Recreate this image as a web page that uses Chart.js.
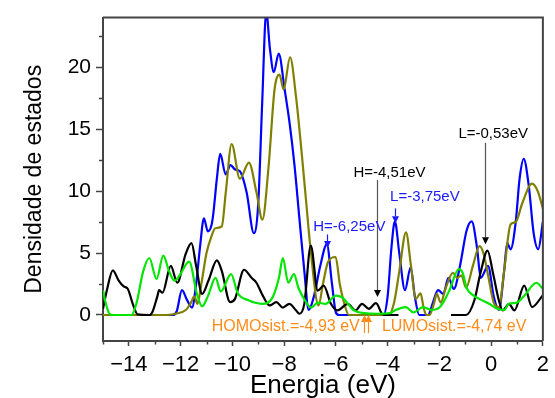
<!DOCTYPE html>
<html>
<head>
<meta charset="utf-8">
<script src="https://cdn.jsdelivr.net/npm/chart.js@4.4.1/dist/chart.umd.min.js"></script>
<style>
  html, body { margin: 0; padding: 0; background: #ffffff; }
  #wrap { width: 555px; height: 398px; }
</style>
</head>
<body>
<div id="wrap"><canvas id="c" width="555" height="398"></canvas></div>
<script>
// ---------- data (energy in eV, density of states) ----------
const blueDOS = [
  [-15, 0], [-12.3, 0], [-12.15, 0.3], [-11.95, 2.0], [-11.75, 1.2], [-11.56, 0.6],
  [-11.4, 2.5], [-11.25, 5.5], [-11.1, 7.8], [-10.95, 6.75], [-10.8, 7.3], [-10.73, 8.3],
  [-10.6, 11.0], [-10.47, 13.0], [-10.26, 11.35], [-10.07, 12.1], [-9.9, 11.75], [-9.71, 11.6],
  [-9.45, 9.9], [-9.17, 6.6], [-9.0, 9.0], [-8.85, 17.0], [-8.69, 24.5], [-8.55, 21.5],
  [-8.4, 19.6], [-8.21, 21.1], [-7.98, 18.2], [-7.79, 15.5], [-7.6, 12.1], [-7.41, 7.8],
  [-7.22, 3.56], [-7.05, 0.4], [-6.85, 1.5], [-6.6, 4.0], [-6.35, 5.7], [-6.15, 2.5],
  [-6.0, 0.2], [-5.88, 0], [-4.16, 0], [-4.0, 1.5], [-3.85, 5.5], [-3.72, 7.55],
  [-3.55, 5.0], [-3.33, 2.0], [-3.11, 3.85], [-2.95, 1.5], [-2.78, 0], [-2.44, 0],
  [-2.25, 1.0], [-2.05, 2.0], [-1.85, 1.7], [-1.65, 3.0], [-1.44, 2.1], [-1.2, 4.0],
  [-0.95, 6.8], [-0.75, 7.55], [-0.55, 5.5], [-0.4, 3.0], [-0.12, 3.96], [0.1, 1.5],
  [0.3, 0.4], [0.5, 3.5], [0.62, 5.8], [0.75, 5.3], [0.95, 7.5], [1.1, 11.0],
  [1.26, 12.6], [1.45, 10.5], [1.65, 6.5], [1.82, 5.3], [2.0, 7.5]
];
const oliveDOS = [
  [-15, 0], [-12.6, 0], [-12.2, 0.1], [-11.8, 0.4], [-11.6, 1.0], [-11.47, 1.5],
  [-11.35, 0.9], [-11.2, 2.5], [-11.0, 5.0], [-10.8, 6.4], [-10.66, 7.0], [-10.41, 7.15],
  [-10.25, 10.0], [-10.03, 13.8], [-9.71, 11.0], [-9.36, 12.3], [-9.07, 9.9], [-8.84, 7.7],
  [-8.6, 12.0], [-8.37, 18.2], [-8.18, 19.4], [-8.02, 18.2], [-7.77, 20.8], [-7.54, 17.6],
  [-7.35, 13.7], [-7.16, 9.4], [-6.97, 5.15], [-6.67, 0.77], [-6.5, 2.5], [-6.3, 4.3],
  [-6.01, 4.68], [-5.85, 2.5], [-5.69, 1.04], [-5.5, 0], [-3.95, 0], [-3.75, 1.0],
  [-3.55, 3.5], [-3.29, 6.67], [-3.1, 4.0], [-2.91, 1.3], [-2.73, 1.75], [-2.6, 0.5],
  [-2.5, 0], [-2.38, 0], [-2.2, 1.0], [-2.1, 1.7], [-1.95, 1.0], [-1.75, 2.2],
  [-1.48, 3.4], [-1.3, 3.0], [-1.15, 3.2], [-0.97, 2.2], [-0.7, 4.0], [-0.45, 5.55],
  [-0.3, 5.0], [-0.1, 3.0], [0.1, 1.0], [0.3, 0.64], [0.5, 3.5], [0.75, 7.3],
  [0.95, 7.5], [1.2, 9.0], [1.58, 10.6], [1.8, 10.0], [2.0, 8.6]
];
const blackDOS = [
  [-15, 0.5], [-14.85, 2.0], [-14.62, 3.6], [-14.4, 2.8], [-14.2, 2.3], [-14.04, 2.1],
  [-13.85, 0.9], [-13.66, 0.05], [-13.2, 0], [-13.09, 0.24], [-12.9, 1.5], [-12.83, 2.0],
  [-12.7, 1.8], [-12.38, 3.96], [-12.13, 2.6], [-11.81, 4.9], [-11.58, 5.8], [-11.4, 3.96],
  [-11.17, 1.7], [-10.92, 2.8], [-10.6, 4.4], [-10.41, 3.56], [-10.09, 1.04], [-9.9, 1.3],
  [-9.55, 3.65], [-9.26, 3.0], [-9.07, 2.6], [-8.81, 1.5], [-8.56, 0.77], [-8.3, 1.04],
  [-8.05, 0.6], [-7.8, 0.9], [-7.55, 0.4], [-7.41, 0.1], [-7.22, 0.9], [-6.97, 5.6],
  [-6.7, 1.97], [-6.47, 2.37], [-6.19, 0.9], [-5.94, 0.37], [-5.54, 0.9], [-5.24, 0.37],
  [-4.99, 0.9], [-4.73, 0.5], [-4.45, 0.96], [-4.2, 0.05], [-4.1, 0], [-3.58, 0],
  [-3.0, null],
  [-1.55, 0], [-0.97, 0], [-0.65, 1.17], [-0.4, 3.5], [-0.14, 5.2], [0.08, 3.3],
  [0.3, 1.17], [0.45, 0.37], [0.69, 0.9], [0.9, 0.37], [1.28, 2.37], [1.58, 0.64],
  [2.0, 1.6]
];
const greenDOS = [
  [-15, 2.0], [-14.9, 1.0], [-14.75, 0.1], [-14.6, 0], [-13.9, 0], [-13.7, 1.0],
  [-13.45, 3.5], [-13.21, 4.6], [-12.93, 2.9], [-12.67, 4.8], [-12.45, 3.56], [-12.24, 2.77],
  [-12.05, 3.16], [-11.67, 4.3], [-11.37, 1.7], [-11.17, 0.69], [-10.95, 1.5], [-10.65, 3.0],
  [-10.45, 1.9], [-10.05, 3.3], [-9.8, 1.8], [-9.4, 1.2], [-8.85, 0.9], [-8.45, 1.4],
  [-8.2, 3.0], [-8.05, 4.6], [-7.84, 2.6], [-7.62, 3.3], [-7.45, 2.2], [-7.2, 1.2],
  [-6.95, 0.6], [-6.7, 1.0], [-6.4, 0.9], [-6.0, 1.57], [-5.75, 1.4], [-5.3, 0.37],
  [-4.9, 0.15], [-4.4, 0.1], [-3.9, 0.15], [-3.72, 0.37], [-3.3, 0.64], [-3.0, 0.2],
  [-2.63, 0.64], [-2.3, 0.4], [-2.0, 0.6], [-1.8, 1.2], [-1.61, 2.0], [-1.25, 3.7],
  [-1.1, 3.4], [-0.95, 2.2], [-0.7, 1.6], [-0.46, 1.3], [-0.08, 0.9], [0.24, 0.5],
  [0.5, 0.4], [0.69, 0.9], [1.0, 1.0], [1.3, 1.6], [1.75, 2.6], [2.0, 2.1]
];

// ---------- axes ----------
const xMajorTicks = [-14, -12, -10, -8, -6, -4, -2, 0, 2];
const xMinorTicks = [-15, -13, -11, -9, -7, -5, -3, -1, 1];
const yMajorTicks = [0, 5, 10, 15, 20];
const yMinorTicks = [2.5, 7.5, 12.5, 17.5, 22.5];
const xTitle = 'Energia (eV)';
const yTitle = 'Densidade de estados';

// ---------- annotations (data coordinates) ----------
const noteTexts = [
  { text: 'H=-6,25eV', x: -5.48, y: 7.15, color: '#1a1aff', size: 15 },
  { text: 'L=-3,75eV', x: -2.56, y: 9.55, color: '#1a1aff', size: 15 },
  { text: 'H=-4,51eV', x: -3.93, y: 11.5, color: '#000000', size: 15 },
  { text: 'L=-0,53eV', x: 0.08, y: 14.6, color: '#000000', size: 15 },
  { text: 'HOMOsist.=-4,93 eV', x: -7.94, y: -0.96, color: '#ff8c1a', size: 16 },
  { text: 'LUMOsist.=-4,74 eV', x: -1.43, y: -0.96, color: '#ff8c1a', size: 16 }
];
const noteArrows = [
  { x: -6.35, from: 6.5, to: 5.4, line: '#1a1aff', head: '#1a1aff' },
  { x: -3.71, from: 8.6, to: 7.4, line: '#1a1aff', head: '#1a1aff' },
  { x: -4.41, from: 10.9, to: 1.45, line: '#555555', head: '#000000' },
  { x: -0.23, from: 13.9, to: 5.7, line: '#555555', head: '#000000' },
  { x: -4.93, from: -1.46, to: 0, line: '#ff8c1a', head: '#ff8c1a' },
  { x: -4.74, from: -1.46, to: 0, line: '#ff8c1a', head: '#ff8c1a' }
];

const FONT = 'Arial, "Liberation Sans", sans-serif';
const AXIS_COLOR = '#444444';

function fmtTick(v) {
  return v < 0 ? '\u2212' + Math.abs(v) : String(v);
}
function toPoints(arr) {
  return arr.map(p => ({ x: p[0], y: p[1] }));
}

const framePlugin = {
  id: 'frame',
  afterDraw(chart) {
    const { ctx, chartArea: a, scales } = chart;
    ctx.save();
    ctx.strokeStyle = AXIS_COLOR;
    ctx.lineWidth = 2;
    ctx.beginPath();
    ctx.moveTo(a.left, a.top);
    ctx.lineTo(a.right, a.top);
    ctx.lineTo(a.right, a.bottom);
    ctx.stroke();
    ctx.lineWidth = 1.5;
    ctx.beginPath();
    xMinorTicks.forEach(v => {
      const px = Math.round(scales.x.getPixelForValue(v)) + 0.5;
      ctx.moveTo(px, a.bottom);
      ctx.lineTo(px, a.bottom + 3.5);
    });
    yMinorTicks.forEach(v => {
      const py = Math.round(scales.y.getPixelForValue(v)) + 0.5;
      ctx.moveTo(a.left, py);
      ctx.lineTo(a.left - 4, py);
    });
    ctx.stroke();
    ctx.restore();
  }
};

const notesPlugin = {
  id: 'notes',
  afterDatasetsDraw(chart) {
    const { ctx, scales } = chart;
    ctx.save();
    noteArrows.forEach(n => {
      const px = Math.round(scales.x.getPixelForValue(n.x)) + 0.5;
      const y1 = scales.y.getPixelForValue(n.from);
      const y2 = scales.y.getPixelForValue(n.to);
      const dir = y2 > y1 ? 1 : -1;
      const headLen = 7, headHalf = 3.5;
      ctx.strokeStyle = n.line;
      ctx.lineWidth = 1.2;
      ctx.beginPath();
      ctx.moveTo(px, y1);
      ctx.lineTo(px, y2 - dir * headLen);
      ctx.stroke();
      ctx.fillStyle = n.head;
      ctx.beginPath();
      ctx.moveTo(px, y2);
      ctx.lineTo(px - headHalf, y2 - dir * headLen);
      ctx.lineTo(px + headHalf, y2 - dir * headLen);
      ctx.closePath();
      ctx.fill();
    });
    ctx.textAlign = 'center';
    ctx.textBaseline = 'middle';
    noteTexts.forEach(t => {
      ctx.font = t.size + 'px ' + FONT;
      ctx.fillStyle = t.color;
      ctx.fillText(t.text, scales.x.getPixelForValue(t.x), scales.y.getPixelForValue(t.y));
    });
    ctx.restore();
  }
};

const lineStyle = {
  pointRadius: 0,
  borderWidth: 2.2,
  cubicInterpolationMode: 'monotone',
  fill: false,
  spanGaps: false
};

new Chart(document.getElementById('c'), {
  type: 'line',
  data: {
    datasets: [
      Object.assign({ label: 'green', data: toPoints(greenDOS), borderColor: '#00e600' }, lineStyle),
      Object.assign({ label: 'black', data: toPoints(blackDOS), borderColor: '#000000' }, lineStyle),
      Object.assign({ label: 'olive', data: toPoints(oliveDOS), borderColor: '#808000' }, lineStyle),
      Object.assign({ label: 'blue', data: toPoints(blueDOS), borderColor: '#0000ff' }, lineStyle)
    ]
  },
  options: {
    responsive: false,
    animation: false,
    events: [],
    layout: { padding: { left: 0, right: 7, top: 14, bottom: 0 } },
    plugins: { legend: { display: false }, tooltip: { enabled: false } },
    scales: {
      x: {
        type: 'linear',
        min: -15,
        max: 2,
        afterBuildTicks: s => { s.ticks = xMajorTicks.map(v => ({ value: v })); },
        afterFit: s => { s.height = 57; },
        ticks: {
          autoSkip: false, maxRotation: 0, padding: 6, color: '#000',
          font: { family: FONT, size: 22 },
          callback: v => fmtTick(v)
        },
        grid: { drawOnChartArea: false, drawTicks: true, tickLength: 5, tickWidth: 1.5, tickColor: AXIS_COLOR },
        border: { display: true, color: AXIS_COLOR, width: 2 },
        title: {
          display: true, text: xTitle, color: '#000',
          font: { family: FONT, size: 26, lineHeight: 1 },
          padding: { top: 0, bottom: -1 }
        }
      },
      y: {
        type: 'linear',
        min: -2.1,
        max: 24,
        afterBuildTicks: s => { s.ticks = yMajorTicks.map(v => ({ value: v })); },
        afterFit: s => { s.width = 103; },
        ticks: {
          padding: 5, color: '#000',
          font: { family: FONT, size: 21 },
          callback: v => fmtTick(v)
        },
        grid: { drawOnChartArea: false, drawTicks: true, tickLength: 7, tickWidth: 1.5, tickColor: AXIS_COLOR },
        border: { display: true, color: AXIS_COLOR, width: 2 },
        title: {
          display: true, text: yTitle, color: '#000',
          font: { family: FONT, size: 23, lineHeight: 1.2 },
          padding: { top: 21, bottom: 0 }
        }
      }
    }
  },
  plugins: [framePlugin, notesPlugin]
});
</script>
</body>
</html>
